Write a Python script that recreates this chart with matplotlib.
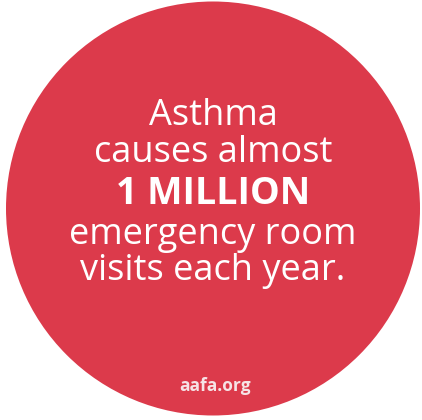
import matplotlib
matplotlib.use("Agg")
import matplotlib.pyplot as plt
from matplotlib.patches import Circle

lines = ["Asthma", "causes almost", "1 MILLION", "emergency room", "visits each year."]
line_y = [116, 153, 194, 235, 271]
line_bold = [False, False, True, False, False]
footer = "aafa.org"

W, H = 422, 420
fig = plt.figure(figsize=(W / 100, H / 100), dpi=100)
ax = fig.add_axes([0, 0, 1, 1])
ax.set_xlim(0, W)
ax.set_ylim(H, 0)
ax.axis("off")
fig.patch.set_facecolor("white")

ax.add_patch(Circle((213, 208.5), 207, facecolor="#DC3A4B", edgecolor="none"))

for txt, y, b in zip(lines, line_y, line_bold):
    ax.text(213, y, txt, ha="center", va="center", color="white",
            fontsize=27 if b else 26, fontweight="bold" if b else "normal",
            family="Open Sans")
ax.text(215, 386, footer, ha="center", va="center", color="#F6E3E6",
        fontsize=12.5, fontweight="bold", family="Open Sans")

fig.savefig("out.png", dpi=100, facecolor="white")
